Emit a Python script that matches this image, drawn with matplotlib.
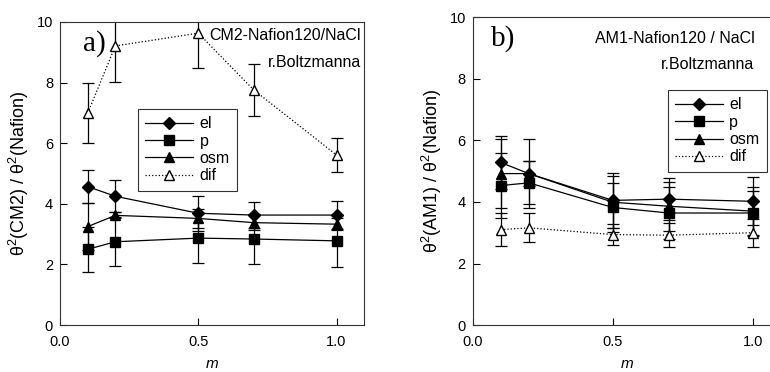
import matplotlib
matplotlib.use("Agg")
import matplotlib.pyplot as plt
from matplotlib.lines import Line2D

plt.rcParams['font.family'] = ['Liberation Sans', 'DejaVu Sans']
plt.rcParams['mathtext.fontset'] = 'custom'
plt.rcParams['mathtext.rm'] = 'Liberation Sans'

m = [0.1, 0.2, 0.5, 0.7, 1.0]

# panel a) CM2-Nafion120 / NaCl
a_el = [4.57, 4.25, 3.69, 3.63, 3.63]
a_el_err = [0.55, 0.53, 0.57, 0.43, 0.47]
a_p = [2.50, 2.75, 2.87, 2.84, 2.78]
a_p_err = [0.75, 0.80, 0.83, 0.84, 0.86]
a_osm = [3.25, 3.62, 3.52, 3.38, 3.33]
a_osm_err = [0.78, 0.10, 0.30, 0.25, 0.20]
a_dif = [6.99, 9.21, 9.63, 7.76, 5.61]
a_dif_err = [0.98, 1.18, 1.15, 0.85, 0.56]

# panel b) AM1-Nafion120 / NaCl
b_el = [5.28, 4.92, 4.05, 4.09, 4.02]
b_el_err = [0.86, 1.12, 0.90, 0.68, 0.78]
b_p = [4.53, 4.62, 3.82, 3.64, 3.64]
b_p_err = [1.05, 0.70, 0.80, 0.85, 0.70]
b_osm = [4.92, 4.92, 3.99, 3.86, 3.70]
b_osm_err = [1.12, 0.40, 0.85, 0.80, 0.80]
b_dif = [3.10, 3.16, 2.94, 2.92, 3.00]
b_dif_err = [0.53, 0.47, 0.35, 0.38, 0.45]

labels = ['el', 'p', 'osm', 'dif']
styles = [
    dict(marker='D', ms=6.5, ls='-', mfc='black'),
    dict(marker='s', ms=6.5, ls='-', mfc='black'),
    dict(marker='^', ms=6.5, ls='-', mfc='black'),
    dict(marker='^', ms=6.5, ls=':', mfc='white'),
]


def draw(ax, series, errs):
    for y, e, st in zip(series, errs, styles):
        ax.errorbar(m, y, yerr=e, color='black', mec='black', lw=0.9,
                    elinewidth=0.9, capsize=4, capthick=0.9, **st)
    ax.set_xlim(0, 1.1)
    ax.set_ylim(0, 10)
    ax.set_xticks([0.0, 0.5, 1.0])
    ax.set_xticklabels(['0.0', '0.5', '1.0'])
    ax.set_yticks([0, 2, 4, 6, 8, 10])
    ax.tick_params(direction='in', length=5, width=0.8, labelsize=10.5, colors='black')
    ax.tick_params(axis='x', pad=7)
    ax.tick_params(axis='y', pad=5)
    for s in ax.spines.values():
        s.set_linewidth(0.8)
        s.set_color('#333333')
    ax.set_xlabel('m', style='italic', fontsize=11, labelpad=6)
    # legend with plain line+marker handles
    handles = [Line2D([], [], color='black', lw=0.9, mec='black', **st) for st in styles]
    return handles


fig = plt.figure(figsize=(7.7, 3.72), dpi=100)
ax1 = fig.add_axes([0.078, 0.126, 0.395, 0.815])
ax2 = fig.add_axes([0.614, 0.126, 0.400, 0.828])

h1 = draw(ax1, [a_el, a_p, a_osm, a_dif], [a_el_err, a_p_err, a_osm_err, a_dif_err])
h2 = draw(ax2, [b_el, b_p, b_osm, b_dif], [b_el_err, b_p_err, b_osm_err, b_dif_err])

ax1.set_ylabel('θ$^2$(CM2) / θ$^2$(Nafion)', fontsize=13, labelpad=4)
ax2.set_ylabel('θ$^2$(AM1) / θ$^2$(Nafion)', fontsize=13, labelpad=4)

ax1.text(0.075, 0.93, 'a)', transform=ax1.transAxes, family='Liberation Serif',
         fontsize=21, va='center')
ax1.text(0.99, 0.955, 'CM2-Nafion120/NaCl', transform=ax1.transAxes,
         ha='right', va='center', fontsize=11.5)
ax1.text(0.99, 0.865, 'r.Boltzmanna', transform=ax1.transAxes,
         ha='right', va='center', fontsize=11.5)

ax2.text(0.06, 0.93, 'b)', transform=ax2.transAxes, family='Liberation Serif',
         fontsize=21, va='center')
ax2.text(0.915, 0.93, 'AM1-Nafion120 / NaCl', transform=ax2.transAxes,
         ha='right', va='center', fontsize=11.5)
ax2.text(0.915, 0.845, 'r.Boltzmanna', transform=ax2.transAxes,
         ha='right', va='center', fontsize=11.5)

for ax, h, anchor in [(ax1, h1, (0.257, 0.713)), (ax2, h2, (0.633, 0.763))]:
    leg = ax.legend(h, labels, loc='upper left', bbox_to_anchor=anchor,
                    bbox_transform=ax.transAxes, fontsize=11.5, frameon=True,
                    fancybox=False, edgecolor='black', handlelength=3.0,
                    labelspacing=0.15, borderpad=0.45, handletextpad=0.4,
                    borderaxespad=0)
    leg.get_frame().set_linewidth(0.8)

fig.savefig('out.png', dpi=100)
